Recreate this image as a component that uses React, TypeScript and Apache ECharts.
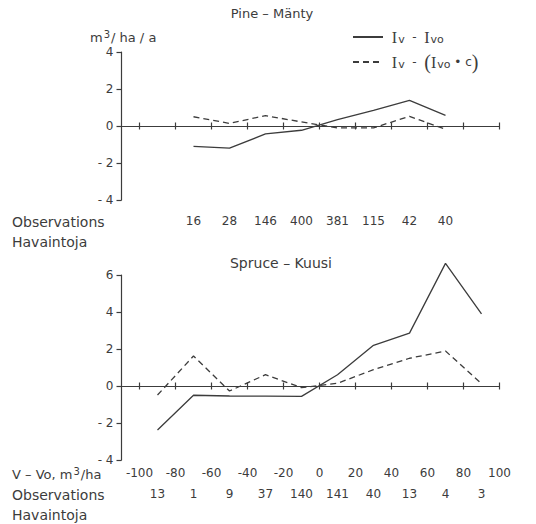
import React, { useEffect, useRef } from "react";
import * as echarts from "echarts";

// Pine – Mänty
const pineX = [-70, -50, -30, -10, 10, 30, 50, 70];
const pineSolid = [-1.1, -1.2, -0.43, -0.23, 0.35, 0.85, 1.38, 0.57];
const pineDashed = [0.5, 0.14, 0.56, 0.22, -0.1, -0.1, 0.52, -0.18];
const pineObs = ["16", "28", "146", "400", "381", "115", "42", "40"];

// Spruce – Kuusi
const spruceX = [-90, -70, -50, -30, -10, 10, 30, 50, 70, 90];
const spruceSolid = [-2.38, -0.5, -0.54, -0.55, -0.56, 0.61, 2.2, 2.86, 6.63, 3.9];
const spruceDashed = [-0.49, 1.62, -0.27, 0.61, -0.09, 0.15, 0.88, 1.5, 1.89, 0.13];
const spruceObs = ["13", "1", "9", "37", "140", "141", "40", "13", "4", "3"];

const xTicks = [-100, -80, -60, -40, -20, 0, 20, 40, 60, 80, 100];

const INK = "#3c3c3c";
const FONT = "DejaVu Sans";
const SERIF = "Liberation Serif";

export default function App() {
  const ref = useRef<HTMLDivElement>(null);
  useEffect(() => {
    document.body.style.margin = "0";
    const chart = echarts.init(ref.current!, null, { renderer: "svg" });
    const pair = (xs: number[], ys: number[]) => xs.map((x, i) => [x, ys[i]]);
    const mapObs = (xs: number[], obs: string[]) => (v: number) => {
      const i = xs.indexOf(v);
      return i >= 0 ? obs[i] : "";
    };
    const yFmt = (v: number) => (v < 0 ? "- " + Math.abs(v) : String(v));

    const baseX = (grid: number, extra: any) => ({
      type: "value",
      gridIndex: grid,
      min: -110,
      max: 100,
      splitLine: { show: false },
      ...extra,
    });

    const lineAxis = (grid: number, yIdx: number, pos: string) =>
      baseX(grid, {
        position: pos,
        axisLine: { show: true, onZero: true, onZeroAxisIndex: yIdx, lineStyle: { color: INK, width: 1.2 } },
        axisTick: { show: true, customValues: xTicks, length: 3.5, lineStyle: { color: INK, width: 1.2 } },
        axisLabel: { show: false },
      });

    const labelAxis = (grid: number, values: number[], fmt: any, margin: number) =>
      baseX(grid, {
        position: "bottom",
        axisLine: { show: false, onZero: false },
        axisTick: { show: false },
        axisLabel: {
          show: true,
          customValues: values,
          formatter: fmt,
          margin,
          color: INK,
          fontSize: 12,
          fontFamily: FONT,
        },
      });

    const yAxis = (grid: number, min: number, max: number) => ({
      type: "value",
      gridIndex: grid,
      min,
      max,
      interval: 2,
      splitLine: { show: false },
      axisLine: { show: true, onZero: false, lineStyle: { color: INK, width: 1.2 } },
      axisTick: { show: true, length: 5, lineStyle: { color: INK, width: 1.2 } },
      axisLabel: { color: INK, fontSize: 12, fontFamily: FONT, margin: 8, formatter: yFmt },
    });

    const solidStyle = { color: INK, width: 1.3, type: "solid" };
    const dashStyle = { color: INK, width: 1.3, type: [6, 4] };

    const rich = {
      i: { fontSize: 16, fontFamily: SERIF, color: INK, lineHeight: 20 },
      s: { fontSize: 11, fontFamily: FONT, color: INK, padding: [5, 0, 0, 1], lineHeight: 20 },
      t: { fontSize: 12, fontFamily: FONT, color: INK, lineHeight: 20 },
      p: { fontSize: 20, fontFamily: SERIF, color: INK, lineHeight: 20 },
    };

    chart.setOption({
      animation: false,
      grid: [
        { left: 121.5, top: 52, width: 378, height: 148, outerBoundsMode: "none", containLabel: false },
        { left: 121.5, top: 275, width: 378, height: 185, outerBoundsMode: "none", containLabel: false },
      ],
      xAxis: [
        lineAxis(0, 0, "bottom"),
        lineAxis(0, 0, "top"),
        labelAxis(0, pineX, mapObs(pineX, pineObs), 15),
        lineAxis(1, 1, "bottom"),
        lineAxis(1, 1, "top"),
        labelAxis(1, xTicks, (v: number) => String(v), 7),
        labelAxis(1, spruceX, mapObs(spruceX, spruceObs), 28),
      ],
      yAxis: [yAxis(0, -4, 4), yAxis(1, -4, 6)],
      legend: {
        orient: "vertical",
        left: 352,
        top: 29,
        padding: 0,
        itemWidth: 30,
        itemHeight: 14,
        itemGap: 7,
        itemStyle: { opacity: 0 },
        data: ["pineSolid", "pineDashed"],
        formatter: (name: string) =>
          name === "pineSolid"
            ? "{t| }{i|I}{s|v}{t|  -  }{i|I}{s|vo}"
            : "{t| }{i|I}{s|v}{t|  -  }{p|(}{i|I}{s|vo}{t| • c}{p|)}",
        textStyle: { rich, color: INK, fontFamily: FONT },
      },
      series: [
        { name: "pineSolid", type: "line", xAxisIndex: 0, yAxisIndex: 0, data: pair(pineX, pineSolid), symbol: "none", lineStyle: solidStyle, itemStyle: { color: INK } },
        { name: "pineDashed", type: "line", xAxisIndex: 0, yAxisIndex: 0, data: pair(pineX, pineDashed), symbol: "none", lineStyle: dashStyle, itemStyle: { color: INK } },
        { name: "spruceSolid", type: "line", xAxisIndex: 3, yAxisIndex: 1, data: pair(spruceX, spruceSolid), symbol: "none", clip: false, lineStyle: solidStyle, itemStyle: { color: INK } },
        { name: "spruceDashed", type: "line", xAxisIndex: 3, yAxisIndex: 1, data: pair(spruceX, spruceDashed), symbol: "none", clip: false, lineStyle: dashStyle, itemStyle: { color: INK } },
      ],
      graphic: [
        { type: "text", x: 272, y: 13, style: { text: "Pine – Mänty", fill: INK, font: `13px ${FONT}`, textAlign: "center", textVerticalAlign: "middle" } },
        { type: "text", x: 281, y: 263, style: { text: "Spruce – Kuusi", fill: INK, font: `14px ${FONT}`, textAlign: "center", textVerticalAlign: "middle" } },
        {
          type: "text", x: 90, y: 37,
          style: {
            text: "{n|m}{u|3}{n|/ ha / a}",
            textVerticalAlign: "middle",
            rich: {
              n: { fontSize: 13, fontFamily: FONT, fill: INK, color: INK },
              u: { fontSize: 10, fontFamily: FONT, fill: INK, color: INK, padding: [0, 1, 6, 1] },
            },
          },
        },
        { type: "text", x: 12, y: 222, style: { text: "Observations", fill: INK, font: `14px ${FONT}`, textVerticalAlign: "middle" } },
        { type: "text", x: 12, y: 242, style: { text: "Havaintoja", fill: INK, font: `14px ${FONT}`, textVerticalAlign: "middle" } },
        {
          type: "text", x: 12, y: 474,
          style: {
            text: "{n|V – Vo, m}{u|3}{n|/ha}",
            textVerticalAlign: "middle",
            rich: {
              n: { fontSize: 13, fontFamily: FONT, fill: INK, color: INK },
              u: { fontSize: 10, fontFamily: FONT, fill: INK, color: INK, padding: [0, 1, 6, 1] },
            },
          },
        },
        { type: "text", x: 12, y: 495, style: { text: "Observations", fill: INK, font: `14px ${FONT}`, textVerticalAlign: "middle" } },
        { type: "text", x: 12, y: 515, style: { text: "Havaintoja", fill: INK, font: `14px ${FONT}`, textVerticalAlign: "middle" } },
      ],
    });
    return () => chart.dispose();
  }, []);
  return <div ref={ref} style={{ width: 536, height: 524 }} />;
}
